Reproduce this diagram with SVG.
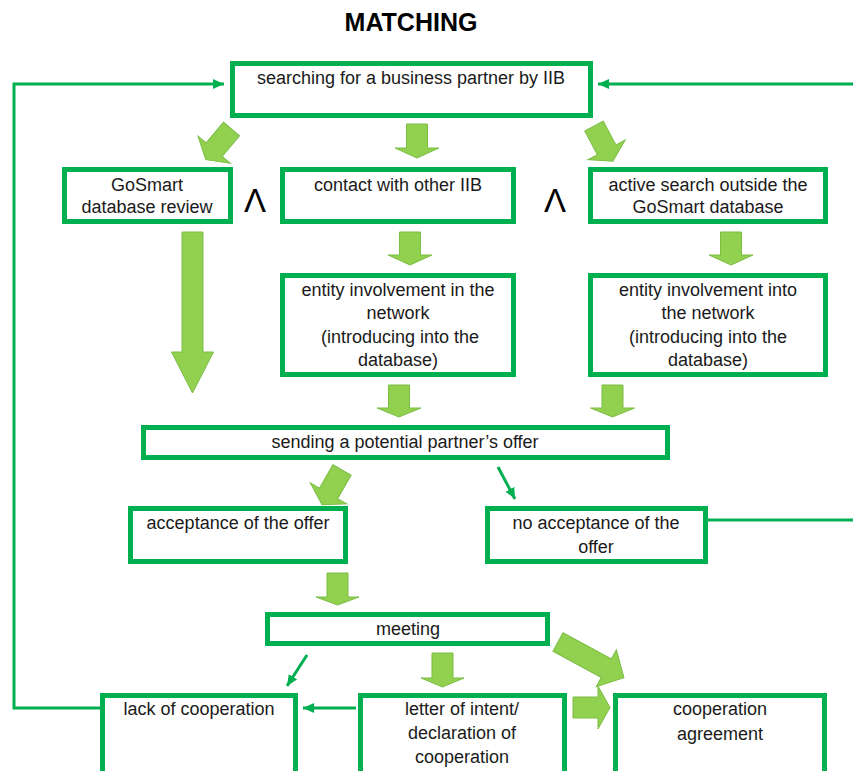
<svg xmlns="http://www.w3.org/2000/svg" width="853" height="771" viewBox="0 0 853 771">
<style>
  .box { fill: #ffffff; stroke: #00b050; stroke-width: 5; }
  .t { font-family: "Liberation Sans", Arial, sans-serif; font-size: 18px; fill: #1a1a1a; text-anchor: middle; }
  .title { font-family: "Liberation Sans", Arial, sans-serif; font-size: 25px; font-weight: bold; fill: #000000; text-anchor: middle; }
  .and { font-family: "Liberation Sans", Arial, sans-serif; font-size: 33px; fill: #000000; text-anchor: middle; }
  .line { fill: none; stroke: #00b050; stroke-width: 3; }
  .arr { fill: none; stroke: #00b050; stroke-width: 3; marker-end: url(#ah); }
  .blk { fill: #92d050; stroke: #7bbd45; stroke-width: 1; }
</style>
<defs>
  <marker id="ah" markerUnits="userSpaceOnUse" markerWidth="11" markerHeight="10" refX="11" refY="5" orient="auto">
    <path d="M0,0 L11,5 L0,10 Z" fill="#00b050"/>
  </marker>
  <path id="dg" d="M-10.5,0 H10.5 V27 H21 L0,40 L-21,27 H-10.5 Z"/>
</defs>

<rect width="853" height="771" fill="#ffffff"/>

<text class="title" x="411" y="31">MATCHING</text>

<g id="connectors">
  <!-- feedback loops -->
  <polyline class="arr" points="100,708 14,708 14,84 224,84"/>
  <line class="arr" x1="853" y1="84" x2="598" y2="84"/>
  <line class="line" x1="708" y1="520" x2="853" y2="520"/>
  <!-- thin arrows -->
  <line class="arr" x1="498" y1="467" x2="515" y2="499"/>
  <line class="arr" x1="307" y1="655" x2="287" y2="686"/>
  <line class="arr" x1="356" y1="708" x2="303" y2="708"/>
  <!-- block arrows -->
  <use href="#dg" class="blk" transform="translate(231.5,129) rotate(40)"/>
  <path class="blk" d="M406.5,124 H427.5 V148 H439 L417,158 L395,148 H406.5 Z"/>
  <use href="#dg" class="blk" transform="translate(594,126) rotate(-28)"/>
  <path class="blk" d="M399.5,232 H420.5 V255 H432 L410,265 L388,255 H399.5 Z"/>
  <path class="blk" d="M720.5,232 H741.5 V255 H753 L731,265 L709,255 H720.5 Z"/>
  <path class="blk" d="M182,232 H203 V352 H213.5 L192.5,393 L171.5,352 H182 Z"/>
  <path class="blk" d="M388.5,385 H409.5 V408 H421 L399,417 L377,408 H388.5 Z"/>
  <path class="blk" d="M602,385 H623 V408 H634.5 L612.5,417 L590.5,408 H602 Z"/>
  <use href="#dg" class="blk" transform="translate(342,470) rotate(30)"/>
  <path class="blk" d="M327,573 H348 V597 H359 L337.5,605 L316,597 H327 Z"/>
  <path class="blk" d="M432,653 H453 V678 H464 L442.5,687 L421,678 H432 Z"/>
  <path class="blk" d="M573,697 H598 V686 L610,707.5 L598,729 V718 H573 Z"/>
  <path class="blk" transform="translate(558,642) rotate(-61.5)" d="M-10.5,0 H10.5 V55 H21 L0,75 L-21,55 H-10.5 Z"/>
</g>

<g id="n-search">
  <rect class="box" x="232.5" y="63.5" width="358" height="52"/>
  <text class="t" x="411" y="84">searching for a business partner by IIB</text>
</g>

<g id="n-gosmart">
  <rect class="box" x="64.5" y="169.5" width="166" height="52"/>
  <text class="t" x="147" y="191">GoSmart</text>
  <text class="t" x="147" y="213">database review</text>
</g>

<g id="and-1"><text class="and" x="255" y="212">Λ</text></g>

<g id="n-contact">
  <rect class="box" x="282.5" y="169.5" width="231" height="52"/>
  <text class="t" x="398" y="191">contact with other IIB</text>
</g>

<g id="and-2"><text class="and" x="555" y="212">Λ</text></g>

<g id="n-active">
  <rect class="box" x="590.5" y="169.5" width="235" height="52"/>
  <text class="t" x="708" y="191">active search outside the</text>
  <text class="t" x="708" y="213">GoSmart database</text>
</g>

<g id="n-entity1">
  <rect class="box" x="282.5" y="275.5" width="231" height="99"/>
  <text class="t" x="398" y="296">entity involvement in the</text>
  <text class="t" x="398" y="319">network</text>
  <text class="t" x="400" y="343">(introducing into the</text>
  <text class="t" x="398" y="366">database)</text>
</g>

<g id="n-entity2">
  <rect class="box" x="590.5" y="275.5" width="235" height="99"/>
  <text class="t" x="708" y="296">entity involvement into</text>
  <text class="t" x="708" y="319">the network</text>
  <text class="t" x="708" y="343">(introducing into the</text>
  <text class="t" x="708" y="366">database)</text>
</g>

<g id="n-sending">
  <rect class="box" x="143.5" y="427.5" width="524" height="30"/>
  <text class="t" x="405" y="448">sending a potential partner’s offer</text>
</g>

<g id="n-accept">
  <rect class="box" x="130.5" y="508.5" width="215" height="53"/>
  <text class="t" x="238" y="529">acceptance of the offer</text>
</g>

<g id="n-noaccept">
  <rect class="box" x="487.5" y="508.5" width="218" height="53"/>
  <text class="t" x="596" y="529">no acceptance of the</text>
  <text class="t" x="596" y="553">offer</text>
</g>

<g id="n-meeting">
  <rect class="box" x="267.5" y="614.5" width="280" height="29"/>
  <text class="t" x="408" y="635">meeting</text>
</g>

<g id="n-lack">
  <rect class="box" x="102.5" y="695.5" width="193" height="110"/>
  <text class="t" x="199" y="715">lack of cooperation</text>
</g>

<g id="n-letter">
  <rect class="box" x="360.5" y="695.5" width="204" height="110"/>
  <text class="t" x="462" y="715">letter of intent/</text>
  <text class="t" x="462" y="739">declaration of</text>
  <text class="t" x="462" y="763">cooperation</text>
</g>

<g id="n-coop">
  <rect class="box" x="615.5" y="695.5" width="209" height="110"/>
  <text class="t" x="720" y="715">cooperation</text>
  <text class="t" x="720" y="740">agreement</text>
</g>
</svg>
